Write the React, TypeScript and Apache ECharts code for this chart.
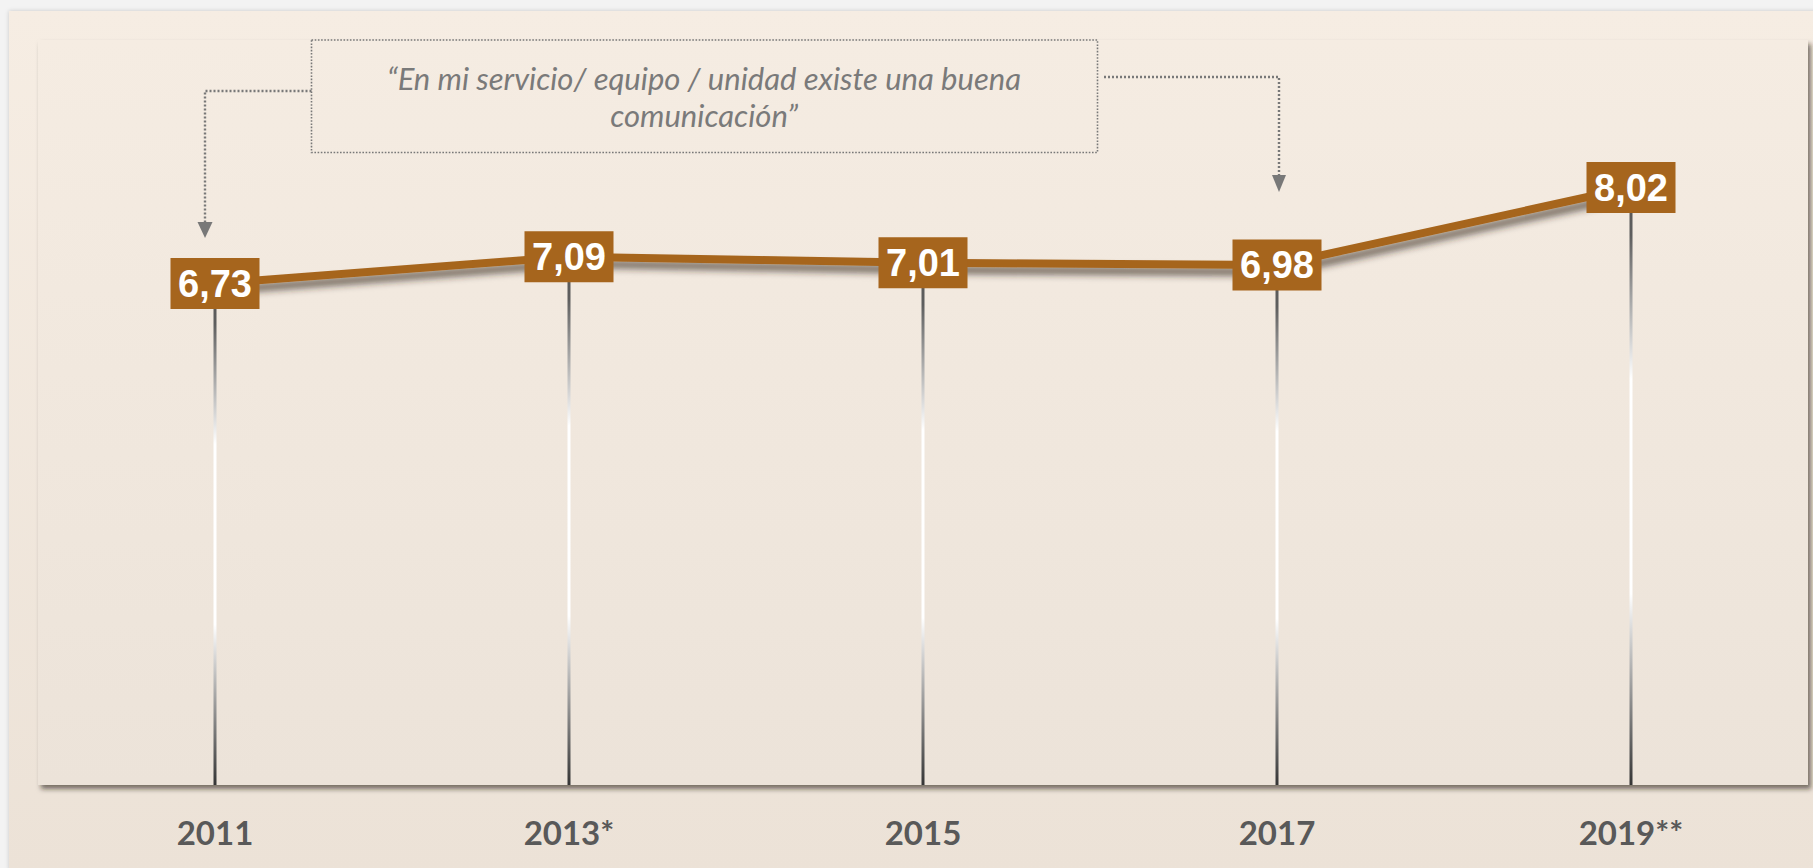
import React, { useEffect, useRef } from "react";
import * as echarts from "echarts";

const categories = ["2011", "2013*", "2015", "2017", "2019**"];
const values = [6.73, 7.09, 7.01, 6.98, 8.02];
const quoteLines = ["“En mi servicio/ equipo / unidad existe una buena", "comunicación”"];
const yMin = 0;
const yMax = 10;

const BROWN = "#A6651D";
const GRAY = "#787878";

export default function App() {
  const ref = useRef<HTMLDivElement>(null);
  useEffect(() => {
    if (!ref.current) return;
    const chart = echarts.init(ref.current, undefined, { renderer: "svg" });
    const dropGradient = new echarts.graphic.LinearGradient(0, 0, 0, 1, [
      { offset: 0, color: "#575757" },
      { offset: 0.08, color: "#5e5e5e" },
      { offset: 0.32, color: "#ffffff" },
      { offset: 0.68, color: "#ffffff" },
      { offset: 1, color: "#353535" },
    ]);
    chart.setOption({
      animation: false,
      backgroundColor: "#f3f3f3",
      grid: {
        left: 38,
        right: 5,
        top: 40,
        bottom: 83,
        show: true,
        borderWidth: 0,
        backgroundColor: {
          type: "linear",
          x: 0,
          y: 0,
          x2: 0,
          y2: 1,
          colorStops: [
            { offset: 0, color: "#f5ece2" },
            { offset: 1, color: "#ece3d9" },
          ],
        },
        shadowColor: "rgba(40,30,20,0.6)",
        shadowBlur: 5,
        shadowOffsetX: 3,
        shadowOffsetY: 4,
      },
      xAxis: {
        type: "category",
        data: categories,
        axisLine: { show: false },
        axisTick: { show: false },
        splitLine: { show: false },
        axisLabel: {
          margin: 47,
          verticalAlign: "middle",
          color: "#595959",
          fontFamily: "Lato",
          fontWeight: "bold",
          fontSize: 33,
        },
      },
      yAxis: {
        type: "value",
        min: yMin,
        max: yMax,
        show: false,
        splitLine: { show: false },
      },
      graphic: [
        {
          type: "rect",
          z: -10,
          shape: { x: 9, y: 11, width: 1810, height: 860 },
          style: {
            fill: {
              type: "linear",
              x: 0,
              y: 0,
              x2: 0,
              y2: 1,
              colorStops: [
                { offset: 0, color: "#f6ede3" },
                { offset: 1, color: "#ece2d7" },
              ],
            },
            shadowBlur: 4,
            shadowColor: "rgba(0,0,0,0.18)",
          },
        },
        {
          type: "rect",
          z: 50,
          shape: { x: 311.5, y: 40, width: 786, height: 112.5 },
          style: { fill: "none", stroke: GRAY, lineWidth: 1.6, lineDash: [1.6, 1.6] },
        },
        {
          type: "text",
          z: 50,
          style: {
            text: quoteLines[0],
            x: 704,
            y: 78,
            fill: "#7a7a7a",
            fontFamily: "Lato",
            fontStyle: "italic",
            fontSize: 31,
            align: "center",
            verticalAlign: "middle",
          },
        },
        {
          type: "text",
          z: 50,
          style: {
            text: quoteLines[1],
            x: 704,
            y: 115,
            fill: "#7a7a7a",
            fontFamily: "Lato",
            fontStyle: "italic",
            fontSize: 31,
            align: "center",
            verticalAlign: "middle",
          },
        },
        {
          type: "polyline",
          z: 50,
          shape: { points: [[311.5, 91], [205, 91], [205, 224]] },
          style: { fill: "none", stroke: GRAY, lineWidth: 2.4, lineDash: [2, 2] },
        },
        {
          type: "polygon",
          z: 50,
          shape: { points: [[197.5, 222], [212.5, 222], [205, 238]] },
          style: { fill: GRAY },
        },
        {
          type: "polyline",
          z: 50,
          shape: { points: [[1104, 77], [1279, 77], [1279, 177]] },
          style: { fill: "none", stroke: GRAY, lineWidth: 2.4, lineDash: [2, 2] },
        },
        {
          type: "polygon",
          z: 50,
          shape: { points: [[1272, 175], [1286, 175], [1279, 192]] },
          style: { fill: GRAY },
        },
      ],
      series: [
        {
          type: "bar",
          data: values,
          barWidth: 3,
          z: 1,
          itemStyle: { color: dropGradient },
          silent: true,
        },
        {
          type: "line",
          data: values,
          z: 5,
          symbol: "rect",
          symbolSize: [89, 51],
          showSymbol: true,
          showAllSymbol: true,
          itemStyle: { color: BROWN },
          lineStyle: {
            color: BROWN,
            width: 8,
            shadowColor: "rgba(50,40,30,0.65)",
            shadowBlur: 7,
            shadowOffsetX: 3,
            shadowOffsetY: 7,
          },
          label: {
            show: true,
            position: "inside",
            color: "#ffffff",
            fontFamily: "Liberation Sans, Arial",
            fontWeight: "bold",
            fontSize: 38,
            formatter: (p: any) => Number(p.value).toFixed(2).replace(".", ","),
          },
        },
      ],
    });
    return () => chart.dispose();
  }, []);
  return (
    <div
      ref={ref}
      style={{ position: "absolute", left: 0, top: 0, width: 1813, height: 868 }}
    />
  );
}
